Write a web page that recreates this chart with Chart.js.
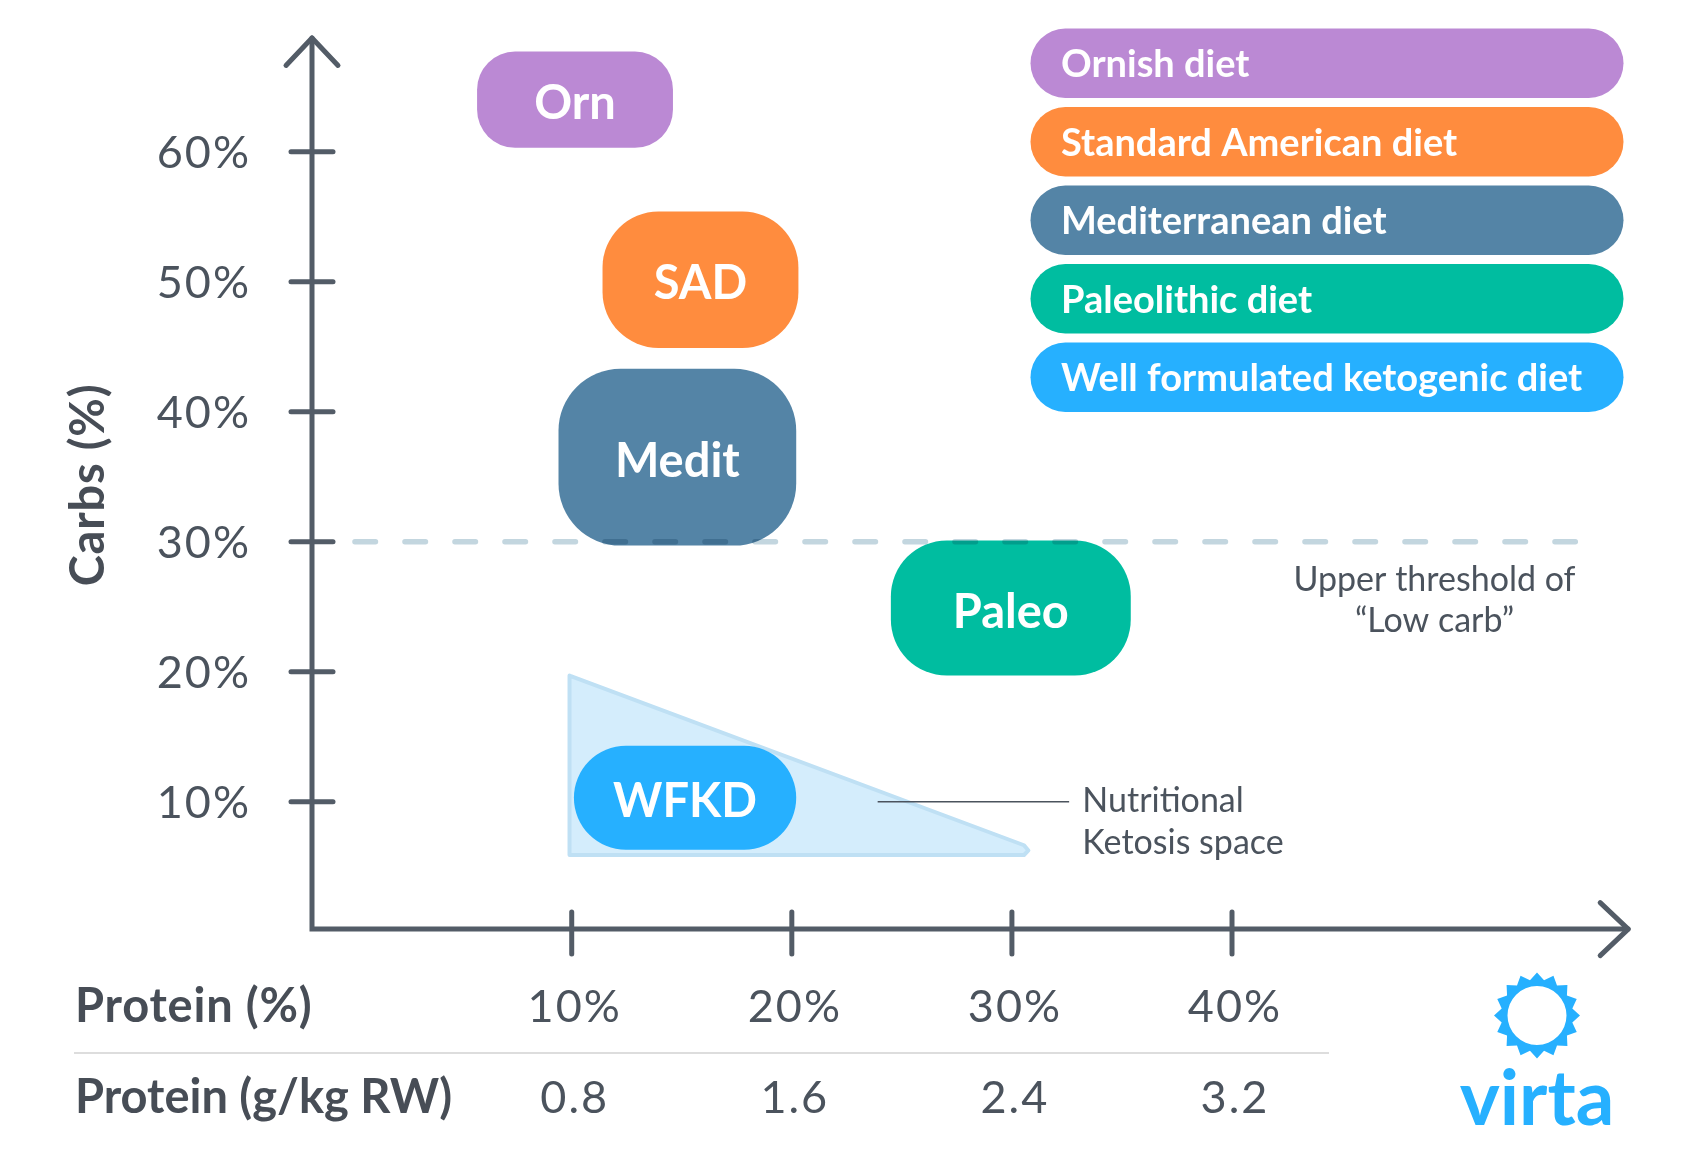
<!DOCTYPE html>
<html>
<head>
<meta charset="utf-8">
<title>Diets by protein and carbs</title>
<script src="https://cdn.jsdelivr.net/npm/chart.js@4.4.0/dist/chart.umd.min.js"></script>
<style>
  html, body { margin: 0; padding: 0; background: #fff; }
  #wrap { width: 1700px; height: 1162px; }
</style>
</head>
<body>
<div id="wrap"><canvas id="dietChart" width="1700" height="1162"></canvas></div>
<script>
// diets: protein range (x, %) and carbs range (y, %)
const dietShort = ['Orn', 'SAD', 'Medit', 'Paleo', 'WFKD'];
const dietNames = ['Ornish diet', 'Standard American diet', 'Mediterranean diet', 'Paleolithic diet', 'Well formulated ketogenic diet'];
const proteinLow  = [5.7, 11.4, 9.4, 24.5, 10.1];
const proteinHigh = [14.6, 20.3, 20.2, 35.4, 20.2];
const carbsLow    = [60.3, 44.9, 29.7, 19.7, 6.3];
const carbsHigh   = [67.7, 55.4, 43.3, 30.1, 14.3];

// nutritional ketosis region (closed outline)
const ketoProtein = [9.9, 9.9, 30.55, 30.75, 30.55, 9.9];
const ketoCarbs   = [19.7, 5.9, 5.9, 6.25, 6.65, 19.7];

// "low carb" threshold
const thresholdCarbs = 30;
const thresholdProtein = [0.15, 55.6];

// axes
const yTicks = [10, 20, 30, 40, 50, 60];
const yTickLabels = ['10%', '20%', '30%', '40%', '50%', '60%'];
const xTicks = [10, 20, 30, 40];
const xTickLabels = ['10%', '20%', '30%', '40%'];
const gramLabels = ['0.8', '1.6', '2.4', '3.2'];

// styles
const dietColors = ['#bb89d4', '#ff8c3e', '#5484a6', '#00bda0', '#26b0ff'];
const cornerRadius = [38, 56, 62, 56, 52];
const axisColor = '#535c67';
const textColor = '#4b535d';
const titleColor = '#474d56';
const axisCrossX = -1.8;   // protein value where the carbs axis stands
const axisCrossY = 0.2;    // carbs value where the protein axis stands
const axisEndX = 58;
const axisEndY = 68.75;

const ctx = document.getElementById('dietChart').getContext('2d');

function capHeight(c) {
  return c.measureText('H').actualBoundingBoxAscent;
}

function roundBox(c, x, y, w, h, r) {
  r = Math.min(r, w / 2, h / 2);
  c.beginPath();
  c.moveTo(x + r, y);
  c.arcTo(x + w, y, x + w, y + h, r);
  c.arcTo(x + w, y + h, x, y + h, r);
  c.arcTo(x, y + h, x, y, r);
  c.arcTo(x, y, x + w, y, r);
  c.closePath();
}

function drawSun(c, cx, cy) {
  const n = 16;
  c.beginPath();
  for (let i = 0; i < 2 * n; i++) {
    const a = -Math.PI / 2 + i * Math.PI / n;
    const r = i % 2 === 0 ? 43 : 36;
    const px = cx + r * Math.cos(a), py = cy + r * Math.sin(a);
    if (i === 0) c.moveTo(px, py); else c.lineTo(px, py);
  }
  c.closePath();
  c.moveTo(cx + 29.5, cy);
  c.arc(cx, cy, 29.5, 0, Math.PI * 2, true);
  c.fill('evenodd');
}

const dietPlugin = {
  id: 'dietPlugin',
  beforeDatasetsDraw(chart) {
    const c = chart.ctx;
    const xs = chart.scales.x, ys = chart.scales.y;
    const ox = xs.getPixelForValue(axisCrossX);
    const oy = ys.getPixelForValue(axisCrossY);
    const ex = xs.getPixelForValue(axisEndX);
    const ey = ys.getPixelForValue(axisEndY);
    c.save();
    c.strokeStyle = axisColor;
    c.lineWidth = 5;
    c.lineCap = 'round';
    c.lineJoin = 'miter';
    // axes
    c.beginPath();
    c.moveTo(ox, ey);
    c.lineTo(ox, oy);
    c.lineTo(ex, oy);
    c.stroke();
    c.lineJoin = 'round';
    c.beginPath();
    c.moveTo(ox - 26, ey + 27.5);
    c.lineTo(ox, ey);
    c.lineTo(ox + 26, ey + 27.5);
    c.stroke();
    c.beginPath();
    c.moveTo(ex - 28, oy - 26.5);
    c.lineTo(ex, oy);
    c.lineTo(ex - 28, oy + 26.5);
    c.stroke();
    // ticks
    yTicks.forEach(v => {
      const y = ys.getPixelForValue(v);
      c.beginPath(); c.moveTo(ox - 21, y); c.lineTo(ox + 21, y); c.stroke();
    });
    xTicks.forEach(v => {
      const x = xs.getPixelForValue(v);
      c.beginPath(); c.moveTo(x, oy - 17); c.lineTo(x, oy + 25); c.stroke();
    });

    // tick labels
    c.fillStyle = textColor;
    c.font = '400 45px Lato';
    c.letterSpacing = '2px';
    c.textAlign = 'right';
    c.textBaseline = 'alphabetic';
    const ch = capHeight(c);
    yTicks.forEach((v, i) => {
      c.fillText(yTickLabels[i], ox - 61, ys.getPixelForValue(v) + ch / 2);
    });
    c.textAlign = 'center';
    xTicks.forEach((v, i) => {
      const x = xs.getPixelForValue(v);
      c.fillText(xTickLabels[i], x + 3, 1022);
      c.fillText(gramLabels[i], x + 3, 1113);
    });

    // axis titles
    c.fillStyle = titleColor;
    c.font = '700 47px Lato';
    c.letterSpacing = '0.8px';
    c.textAlign = 'left';
    c.fillText('Protein (%)', 75, 1022);
    c.save();
    c.translate(104, 485);
    c.rotate(-Math.PI / 2);
    c.textAlign = 'center';
    c.fillText('Carbs (%)', 0, 0);
    c.restore();
    c.letterSpacing = '0px';
    c.fillText('Protein (g/kg RW)', 75, 1113);

    // separator between the two protein rows
    c.strokeStyle = '#dddddd';
    c.lineWidth = 2;
    c.lineCap = 'butt';
    c.beginPath(); c.moveTo(74, 1053); c.lineTo(1329, 1053); c.stroke();

    // threshold note
    c.fillStyle = textColor;
    c.font = '400 34px Lato';
    c.textAlign = 'center';
    const noteX = xs.getPixelForValue(49.2);
    c.fillText('Upper threshold of', noteX, 591);
    c.fillText('\u201CLow carb\u201D', noteX, 632);

    // ketosis note text
    c.font = '400 34px Lato';
    c.textAlign = 'left';
    const kx = xs.getPixelForValue(33.2);
    c.fillText('Nutritional', kx, 812);
    c.fillText('Ketosis space', kx, 854);

    // legend pills
    c.font = '700 38px Lato';
    const lch = capHeight(c);
    dietNames.forEach((name, i) => {
      const top = 28.5 + i * 78.5;
      c.fillStyle = dietColors[i];
      roundBox(c, 1030.5, top, 593, 69.5, 34.75);
      c.fill();
      c.fillStyle = '#ffffff';
      c.fillText(name, 1061, top + 34.75 + lch / 2);
    });

    // logo
    c.fillStyle = '#26b0ff';
    drawSun(c, 1537, 1015.5);
    c.font = '700 76px Lato';
    c.textAlign = 'center';
    c.fillText('virta', 1537, 1125);
    c.restore();
  },
  beforeDatasetDraw(chart, args) {
    if (args.index === 0) chart.ctx.globalCompositeOperation = 'multiply';
  },
  afterDatasetDraw(chart, args) {
    const c = chart.ctx;
    if (args.index === 0) {
      c.globalCompositeOperation = 'source-over';
      return;
    }
    const xs = chart.scales.x, ys = chart.scales.y;
    c.save();
    // diet boxes
    c.font = '700 47px Lato';
    c.textAlign = 'center';
    const ch = capHeight(c);
    dietShort.forEach((label, i) => {
      const x0 = xs.getPixelForValue(proteinLow[i]);
      const x1 = xs.getPixelForValue(proteinHigh[i]);
      const y0 = ys.getPixelForValue(carbsHigh[i]);
      const y1 = ys.getPixelForValue(carbsLow[i]);
      c.fillStyle = dietColors[i];
      roundBox(c, x0, y0, x1 - x0, y1 - y0, cornerRadius[i]);
      c.fill();
      c.fillStyle = '#ffffff';
      c.fillText(label, (x0 + x1) / 2, (y0 + y1) / 2 + ch / 2 + 2);
    });
    // leader line to ketosis note
    c.strokeStyle = textColor;
    c.lineWidth = 1.6;
    const ly = ys.getPixelForValue(10);
    c.beginPath();
    c.moveTo(xs.getPixelForValue(23.9), ly);
    c.lineTo(xs.getPixelForValue(32.6), ly);
    c.stroke();
    c.restore();
  }
};

new Chart(ctx, {
  type: 'scatter',
  data: {
    datasets: [
      {
        label: 'Low carb threshold',
        data: thresholdProtein.map(p => ({ x: p, y: thresholdCarbs })),
        showLine: true,
        borderColor: '#c3d6df',
        borderWidth: 5.4,
        borderDash: [20.6, 29.4],
        borderCapStyle: 'round',
        pointRadius: 0,
        fill: false
      },
      {
        label: 'Nutritional ketosis space',
        data: ketoProtein.map((p, i) => ({ x: p, y: ketoCarbs[i] })),
        showLine: true,
        borderColor: '#bfe0f4',
        backgroundColor: '#d4edfc',
        borderWidth: 4,
        borderJoinStyle: 'round',
        pointRadius: 0,
        tension: 0,
        fill: 'shape'
      }
    ]
  },
  options: {
    responsive: false,
    animation: false,
    events: [],
    layout: { padding: { left: 307.6, right: 27.8, top: 21.7, bottom: 230.3 } },
    plugins: {
      legend: { display: false },
      tooltip: { enabled: false }
    },
    scales: {
      x: { type: 'linear', min: -2, max: 60, display: false },
      y: { type: 'linear', min: 0, max: 70, display: false }
    }
  },
  plugins: [dietPlugin]
});
</script>
</body>
</html>
